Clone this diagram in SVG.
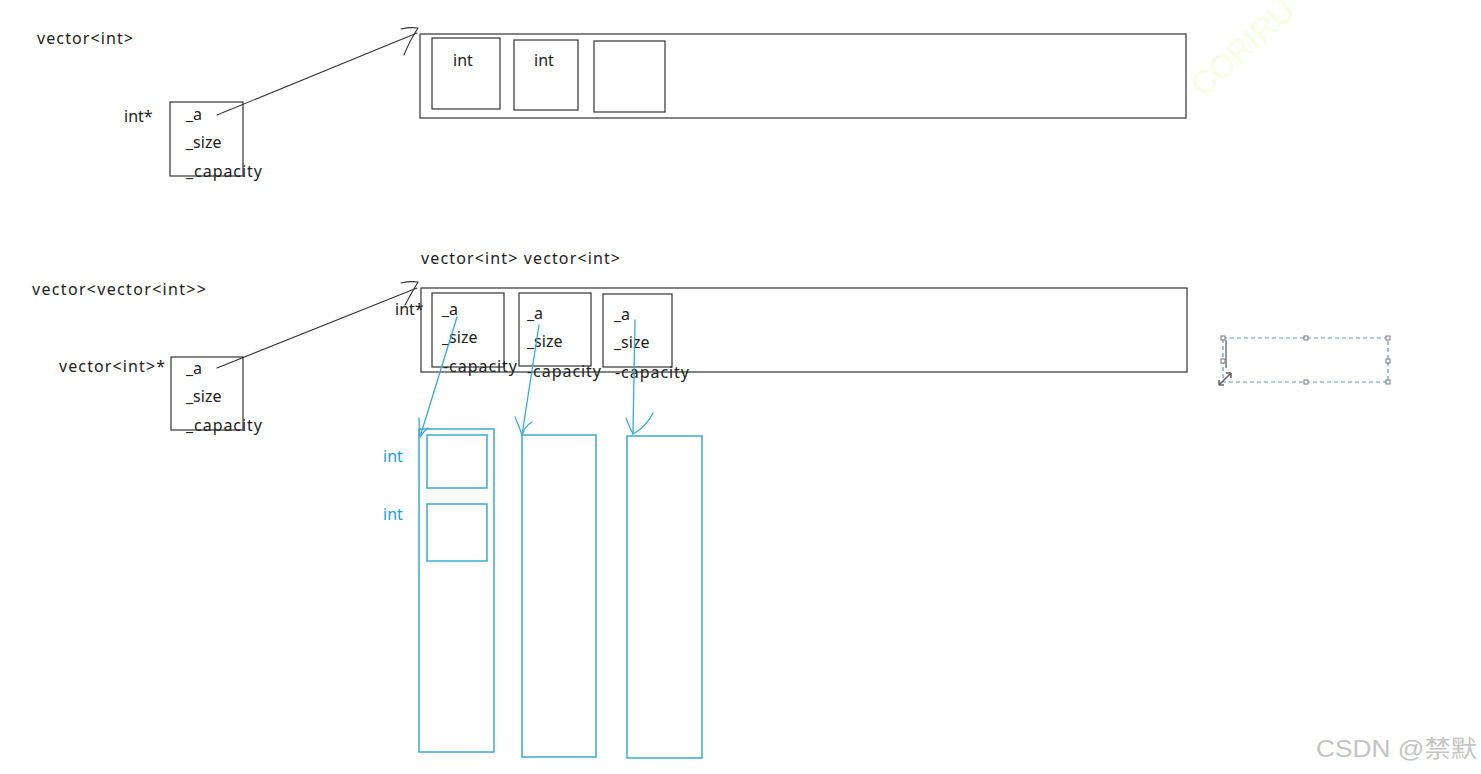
<svg xmlns="http://www.w3.org/2000/svg" width="1481" height="774" viewBox="0 0 1481 774">
<style>
  text { font-family: "Noto Sans", "Liberation Sans", sans-serif; font-size: 16px; fill: #222; }
  .blk { fill: none; stroke: #333; stroke-width: 1.2; }
  .blu { fill: none; stroke: #3aaad2; stroke-width: 1.5; }
  .bt { fill: #1fa0d8; }
  .pen { fill: none; stroke: #333; stroke-width: 1.1; stroke-linecap: round; stroke-linejoin: round; }
  .penb { fill: none; stroke: #3aaad2; stroke-width: 1.3; stroke-linecap: round; stroke-linejoin: round; }
  .h { fill: #fff; stroke: #777; stroke-width: 1; }
</style>
<rect width="1481" height="774" fill="#fff"/>

<!-- watermarks -->
<text x="1203" y="98" transform="rotate(-42 1203 98)" style="font-size:32px;fill:#f7fde2;font-family:'Liberation Sans',sans-serif">CORIRU</text>
<text x="1316" y="757" textLength="161" lengthAdjust="spacingAndGlyphs" style="font-size:24px;fill:#c4c4c4;font-family:'Liberation Sans','Noto Sans CJK SC',sans-serif">CSDN @禁默</text>

<!-- Top section -->
<g id="label-vector-int">
  <text x="37" y="44" textLength="96" lengthAdjust="spacing">vector&lt;int&gt;</text>
</g>
<g id="node-vec1">
  <rect class="blk" x="170" y="102" width="73" height="74"/>
  <text x="124" y="122">int*</text>
  <text x="186" y="120">_a</text>
  <text x="186" y="148">_size</text>
  <text x="186" y="177" textLength="76" lengthAdjust="spacing">_capacity</text>
</g>
<g id="node-arr1">
  <rect class="blk" x="420" y="34" width="766" height="84"/>
  <rect class="blk" x="432" y="38" width="68" height="71"/>
  <rect class="blk" x="514" y="40" width="64" height="70"/>
  <rect class="blk" x="594" y="41" width="71" height="71"/>
  <text x="453" y="66">int</text>
  <text x="534" y="66">int</text>
</g>

<!-- Bottom section -->
<g id="label-vv">
  <text x="32" y="295" textLength="174" lengthAdjust="spacing">vector&lt;vector&lt;int&gt;&gt;</text>
  <text x="421" y="264" textLength="199" lengthAdjust="spacing">vector&lt;int&gt; vector&lt;int&gt;</text>
</g>
<g id="node-vec2">
  <rect class="blk" x="171" y="357" width="72" height="73"/>
  <text x="59" y="372" textLength="106" lengthAdjust="spacing">vector&lt;int&gt;*</text>
  <text x="186" y="374">_a</text>
  <text x="186" y="402">_size</text>
  <text x="186" y="431" textLength="76" lengthAdjust="spacing">_capacity</text>
</g>
<g id="node-arr2">
  <rect class="blk" x="421" y="288" width="766" height="84"/>
  <text x="395" y="315">int*</text>
  <rect class="blk" x="432" y="293" width="72" height="74"/>
  <text x="442" y="315">_a</text>
  <text x="442" y="343">_size</text>
  <text x="443" y="372" textLength="74" lengthAdjust="spacing">-capacity</text>
  <rect class="blk" x="519" y="293" width="72" height="73"/>
  <text x="527" y="319">_a</text>
  <text x="527" y="347">_size</text>
  <text x="527" y="377" textLength="74" lengthAdjust="spacing">-capacity</text>
  <rect class="blk" x="603" y="294" width="69" height="73"/>
  <text x="614" y="320">_a</text>
  <text x="614" y="348">_size</text>
  <text x="615" y="378" textLength="74" lengthAdjust="spacing">-capacity</text>
</g>

<g id="node-col1">
  <rect class="blu" x="419" y="429" width="75" height="323"/>
  <rect class="blu" x="427" y="435" width="60" height="53"/>
  <rect class="blu" x="427" y="504" width="60" height="57"/>
  <text class="bt" x="383" y="462">int</text>
  <text class="bt" x="383" y="520">int</text>
</g>
<g id="node-col2">
  <rect class="blu" x="522" y="435" width="74" height="322"/>
</g>
<g id="node-col3">
  <rect class="blu" x="627" y="436" width="75" height="322"/>
</g>

<!-- selection box -->
<g id="node-selection">
  <rect x="1223" y="338" width="165" height="44" fill="none" stroke="#5b9bc8" stroke-width="1.2" stroke-dasharray="4 3"/>
  <line x1="1226" y1="340" x2="1226" y2="368" stroke="#333" stroke-width="1"/>
  <rect class="h" x="1221" y="336" width="4" height="4"/>
  <rect class="h" x="1304" y="336" width="4" height="4"/>
  <rect class="h" x="1386" y="336" width="4" height="4"/>
  <rect class="h" x="1221" y="359" width="4" height="4"/>
  <rect class="h" x="1386" y="359" width="4" height="4"/>
  <rect class="h" x="1304" y="380" width="4" height="4"/>
  <rect class="h" x="1386" y="380" width="4" height="4"/>
  <path d="M1219 385 L1219 380 M1219 385 L1224 385 M1219 385 L1231 373 M1231 373 L1226 373 M1231 373 L1231 378" fill="none" stroke="#666" stroke-width="1.6"/>
</g>

<!-- connectors -->
<g id="connectors">
  <path class="pen" d="M217 115 L417 33"/>
  <path class="pen" d="M401 29 Q410 27 418 28 Q410 40 404 55"/>
  <path class="pen" d="M217 368 L417 288"/>
  <path class="pen" d="M401 283 Q410 281 418 282 Q412 292 405 305"/>
  <path class="penb" d="M457 317 L420 437"/>
  <path class="penb" d="M419 418 Q419 428 420 437 Q424 431 428 428"/>
  <path class="penb" d="M539 325 L522 435"/>
  <path class="penb" d="M515 417 Q519 426 522 435 Q525 426 532 422"/>
  <path class="penb" d="M635 320 L633 434"/>
  <path class="penb" d="M626 418 Q629 426 633 434 Q646 427 653 413"/>
</g>
</svg>
